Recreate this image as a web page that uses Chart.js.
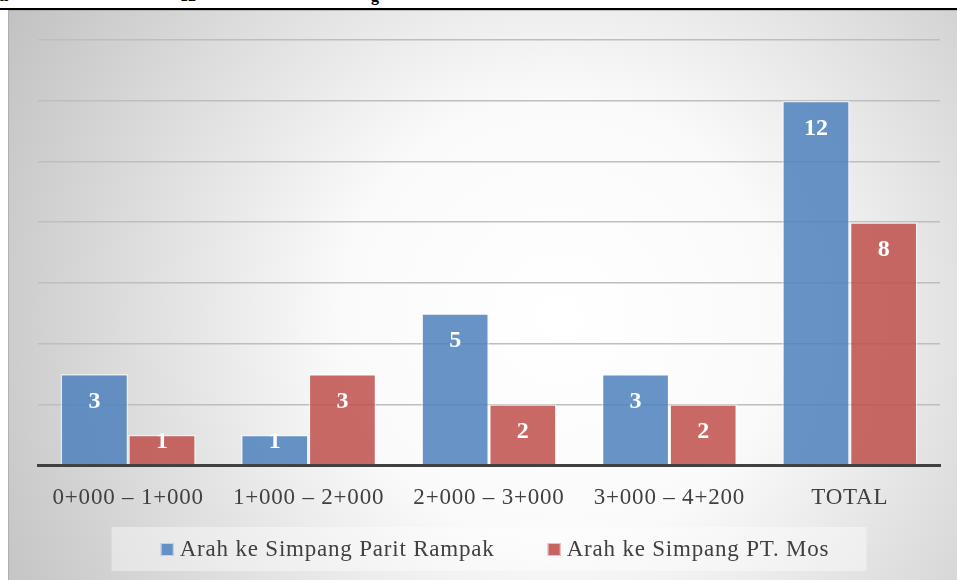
<!DOCTYPE html>
<html>
<head>
<meta charset="utf-8">
<script src="https://cdn.jsdelivr.net/npm/chart.js@4.4.1/dist/chart.umd.min.js"></script>
<style>
  html, body { margin: 0; padding: 0; background: #ffffff; width: 957px; height: 580px; overflow: hidden; position: relative; }
  .frag { position: absolute; top: -12px; font: bold 16px "Liberation Serif", serif; color: #000; white-space: nowrap; line-height: 16px; }
  #topline { position: absolute; left: 0; top: 8px; width: 957px; height: 2px; background: #000; }
  #wrap { position: absolute; left: 8px; top: 10px; width: 949px; height: 570px; }
</style>
</head>
<body>
<span class="frag" style="left:-4px">al</span>
<span class="frag" style="left:180px">12</span>
<span class="frag" style="left:371px">g</span>
<div id="topline"></div>
<div id="wrap"><canvas id="c" width="949" height="570"></canvas></div>
<script>
const categories = ["0+000 – 1+000", "1+000 – 2+000", "2+000 – 3+000", "3+000 – 4+200", "TOTAL"];
const seriesParitRampak = [3, 1, 5, 3, 12];
const seriesPTMos = [1, 3, 2, 2, 8];
const seriesNames = ["Arah ke Simpang Parit Rampak", "Arah ke Simpang PT. Mos"];

const FONT = '"Liberation Serif", "DejaVu Serif", serif';
const LETTER = '0.8px';

const bgPlugin = {
  id: 'bg',
  beforeDraw(chart) {
    const ctx = chart.ctx;
    const w = chart.width, h = chart.height;
    ctx.letterSpacing = LETTER;
    ctx.save();
    const g = ctx.createRadialGradient(552, 310, 0, 552, 310, 630);
    g.addColorStop(0, '#ffffff');
    g.addColorStop(0.35, '#fafafa');
    g.addColorStop(1, '#c2c2c2');
    ctx.fillStyle = g;
    ctx.fillRect(0, 0, w, h);
    ctx.strokeStyle = 'rgba(160,160,160,0.6)';
    ctx.lineWidth = 1;
    ctx.beginPath();
    ctx.moveTo(0.5, h); ctx.lineTo(0.5, 0.5); ctx.lineTo(w, 0.5);
    ctx.stroke();
    ctx.restore();
  }
};

const labelPlugin = {
  id: 'barLabels',
  afterDatasetsDraw(chart) {
    const ctx = chart.ctx;
    ctx.save();
    ctx.letterSpacing = '0px';
    ctx.fillStyle = '#ffffff';
    ctx.font = 'bold 24px ' + FONT;
    ctx.textAlign = 'center';
    ctx.textBaseline = 'middle';
    chart.data.datasets.forEach((ds, i) => {
      const meta = chart.getDatasetMeta(i);
      meta.data.forEach((bar, j) => {
        const hgt = bar.base - bar.y;
        const cy = hgt >= 50 ? bar.y + 28 : bar.y + 7;
        ctx.fillText(String(ds.data[j]), bar.x, cy);
      });
    });
    ctx.restore();
  }
};

const legendPlugin = {
  id: 'customLegend',
  afterDraw(chart) {
    const ctx = chart.ctx;
    const ca = chart.chartArea;
    const cx = (ca.left + ca.right) / 2;
    ctx.save();
    ctx.letterSpacing = LETTER;
    ctx.font = '23px ' + FONT;
    const box = 13, gapBox = 6, gapItem = 53;
    const items = chart.data.datasets.map(ds => ({ label: ds.label, color: ds.legendColor, w: ctx.measureText(ds.label).width }));
    let total = 0;
    items.forEach((it, k) => { total += box + gapBox + it.w + (k < items.length - 1 ? gapItem : 0); });
    const bw = 755, bh = 44, bTop = 517;
    ctx.fillStyle = 'rgba(255,255,255,0.4)';
    ctx.fillRect(cx - bw / 2, bTop, bw, bh);
    let x = cx - total / 2 + 6;
    const baseline = 546;
    items.forEach(it => {
      ctx.fillStyle = it.color;
      ctx.fillRect(x, baseline - 13, box, box);
      ctx.strokeStyle = 'rgba(255,255,255,0.6)';
      ctx.lineWidth = 1;
      ctx.strokeRect(x + 0.5, baseline - 12.5, box - 1, box - 1);
      x += box + gapBox;
      ctx.fillStyle = '#404040';
      ctx.textBaseline = 'alphabetic';
      ctx.textAlign = 'left';
      ctx.fillText(it.label, x, baseline);
      x += it.w + gapItem;
    });
    ctx.restore();
  }
};

new Chart(document.getElementById('c'), {
  type: 'bar',
  data: {
    labels: categories,
    datasets: [
      {
        label: seriesNames[0],
        data: seriesParitRampak,
        backgroundColor: 'rgba(79,129,189,0.86)',
        legendColor: '#6590c4',
        borderColor: 'rgba(255,255,255,0.5)',
        borderWidth: 1.5
      },
      {
        label: seriesNames[1],
        data: seriesPTMos,
        backgroundColor: 'rgba(192,80,77,0.86)',
        legendColor: '#c86563',
        borderColor: 'rgba(255,255,255,0.5)',
        borderWidth: 1.5
      }
    ]
  },
  options: {
    responsive: false,
    animation: false,
    layout: { padding: { left: 30, right: 17, top: 30, bottom: 0 } },
    datasets: { bar: { categoryPercentage: 0.75, barPercentage: 1.0 } },
    plugins: { legend: { display: false }, tooltip: { enabled: false } },
    scales: {
      x: {
        grid: { display: false, drawTicks: false },
        border: { display: true, color: '#404040', width: 3 },
        ticks: { color: '#404040', font: { family: FONT, size: 23 }, padding: 19, maxRotation: 0, autoSkip: false },
        afterFit(scale) { scale.height = 115; }
      },
      y: {
        min: 0, max: 14,
        grid: { color: '#bebebe', lineWidth: 1.5, drawTicks: false },
        border: { display: false },
        ticks: { display: false, stepSize: 2 },
        afterFit(scale) { scale.width = 0; }
      }
    }
  },
  plugins: [bgPlugin, labelPlugin, legendPlugin]
});
</script>
</body>
</html>
